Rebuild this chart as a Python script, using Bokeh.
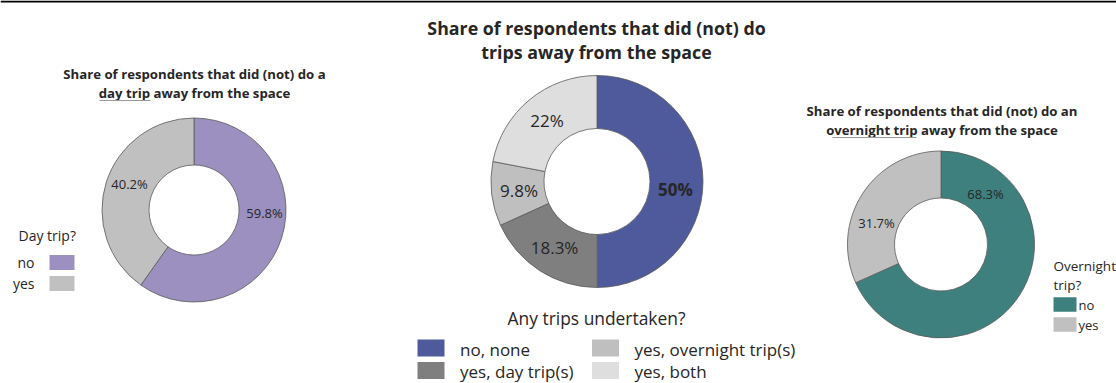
import math
from bokeh.plotting import figure
from bokeh.models import Range1d, ColumnDataSource, Span
from bokeh.core.properties import value
from bokeh.embed import file_html
from bokeh.resources import INLINE

# ---------------- data ----------------
day_cats = ["no", "yes"]
day_vals = [59.8, 40.2]
any_cats = ["no, none", "yes, day trip(s)", "yes, overnight trip(s)", "yes, both"]
any_vals = [50.0, 18.3, 9.8, 22.0]
night_cats = ["no", "yes"]
night_vals = [68.3, 31.7]

day_colors = ["#9c90c0", "#c0c0c0"]
any_colors = ["#4e5a9b", "#7f7f7f", "#bfbfbf", "#dedede"]
night_colors = ["#3e807e", "#c0c0c0"]

W, H = 1116, 383
FONT = "Open Sans"
TXT = "#262626"

p = figure(width=W, height=H, output_backend="svg", toolbar_location=None,
           x_range=Range1d(0, W), y_range=Range1d(0, H), min_border=0)
p.axis.visible = False
p.grid.visible = False
p.outline_line_color = None
p.background_fill_color = "white"
p.border_fill_color = "white"


def Y(v):
    return H - v


def donut(cx, cy, r_in, r_out, vals, colors):
    total = sum(vals)
    starts, ends, mids = [], [], []
    c = 0.0
    for v in vals:
        c0 = c / total
        c1 = (c + v) / total
        starts.append(math.pi / 2 - 2 * math.pi * c1)
        ends.append(math.pi / 2 - 2 * math.pi * c0)
        mids.append((c0 + c1) / 2)
        c += v
    src = ColumnDataSource(dict(start=starts, end=ends, color=colors))
    p.annular_wedge(x=cx, y=Y(cy), inner_radius=r_in, outer_radius=r_out,
                    start_angle="start", end_angle="end", direction="anticlock",
                    fill_color="color", line_color="#5a5a5a", line_width=0.8,
                    source=src)
    return mids


def label(x, y, t, size, bold=False, align="center", color=TXT):
    p.text(x=[x], y=[Y(y)], text=[t], text_font=value(FONT),
           text_font_size=f"{size}px", text_align=align, text_baseline="middle",
           text_font_style="bold" if bold else "normal", text_color=color)


def pct(v):
    return f"{v:g}%"


# top rule
p.add_layout(Span(location=Y(1), dimension="width", line_color="black", line_width=2))

# ---------------- left donut ----------------
donut(193.5, 209.5, 45, 92, day_vals, day_colors)
label(194, 73, "Share of respondents that did (not) do a", 13.2, bold=True)
label(194, 92, "day trip away from the space", 13.2, bold=True)
p.segment(x0=[99], y0=[Y(100)], x1=[150], y1=[Y(100)], line_color="#9a9a9a", line_width=1)
day_label_pos = [(264, 212), (129, 183)]
for (lx, ly), v in zip(day_label_pos, day_vals):
    label(lx, ly, pct(v), 13)
label(18, 235, "Day trip?", 14, align="left")
for i, (cat, col) in enumerate(zip(day_cats, day_colors)):
    yy = 262 + i * 21
    label(34, yy, cat, 14, align="right")
    p.rect(x=[61.5], y=[Y(yy)], width=25, height=15, fill_color=col, line_color=None)

# ---------------- middle donut ----------------
cx, cy, ri, ro = 596.5, 181, 53, 106
mids = donut(cx, cy, ri, ro, any_vals, any_colors)
label(596, 27, "Share of respondents that did (not) do", 17.8, bold=True)
label(596, 51, "trips away from the space", 17.8, bold=True)
rm = (ri + ro) / 2 - 1
for i, (m, v) in enumerate(zip(mids, any_vals)):
    a = 2 * math.pi * m
    label(cx + rm * math.sin(a), cy - rm * math.cos(a) + 8 * (i == 0), pct(v), 17, bold=(i == 0))
label(596, 317, "Any trips undertaken?", 17.4)
for i, (cat, col) in enumerate(zip(any_cats, any_colors)):
    colx = i // 2
    row = i % 2
    sx = 430.5 + colx * 174.5
    yy = 347.5 + row * 22.5
    p.rect(x=[sx], y=[Y(yy)], width=27, height=17, fill_color=col, line_color=None)
    label(sx + 29, yy + 1, cat, 17, align="left")

# ---------------- right donut ----------------
donut(940.5, 244, 46.5, 93.5, night_vals, night_colors)
label(941.5, 110, "Share of respondents that did (not) do an", 13.2, bold=True)
label(941.5, 129, "overnight trip away from the space", 13.2, bold=True)
p.segment(x0=[832], y0=[Y(137)], x1=[916], y1=[Y(137)], line_color="#9a9a9a", line_width=1)
night_label_pos = [(985, 193), (876, 222)]
for (lx, ly), v in zip(night_label_pos, night_vals):
    label(lx, ly, pct(v), 13)
label(1053, 265, "Overnight", 13.5, align="left")
label(1053, 284, "trip?", 13.5, align="left")
for i, (cat, col) in enumerate(zip(night_cats, night_colors)):
    yy = 304 + i * 20
    p.rect(x=[1064.5], y=[Y(yy)], width=23, height=14.5, fill_color=col, line_color=None)
    label(1078, yy, cat, 13, align="left")

open("out.html", "w").write(file_html(p, INLINE))
